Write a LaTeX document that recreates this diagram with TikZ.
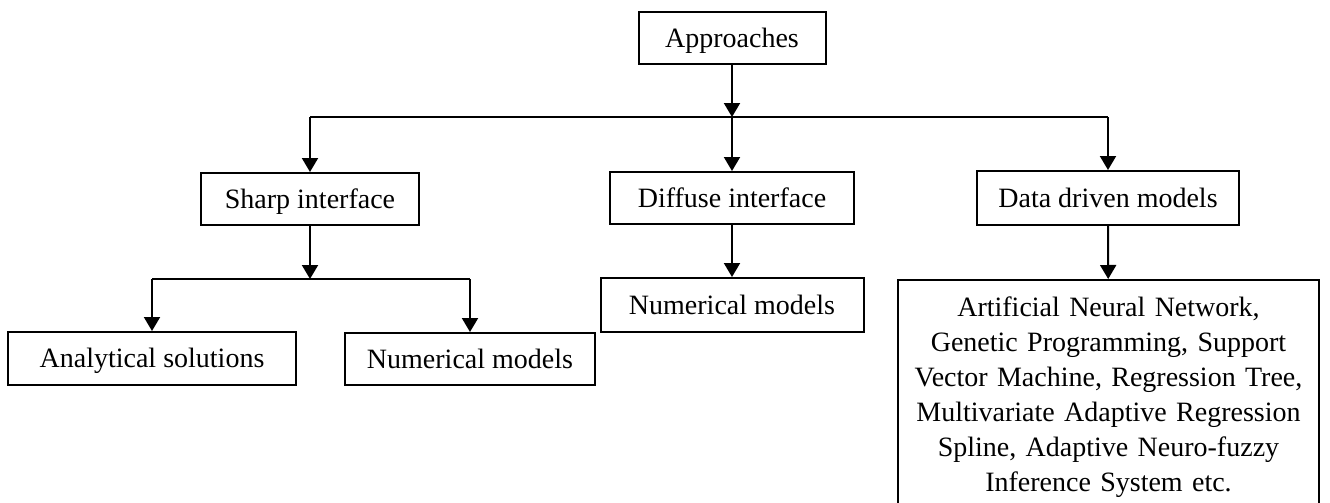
\documentclass[tikz,border=0pt]{standalone}
\usepackage{fontspec}
\setmainfont{Liberation Serif}
\usetikzlibrary{arrows.meta}
\begin{document}
\begin{tikzpicture}[x=0.5pt,y=-0.5pt,
  box/.style={draw,line width=1pt,inner sep=0pt,text height=9.4pt,text depth=0pt,
    font=\fontsize{14}{17.5}\selectfont},
  bigbox/.style={draw,line width=1pt,inner xsep=5.25pt,inner ysep=8.5pt,text width=200pt,
    align=center,font=\fontsize{14}{17.5}\selectfont},
  arr/.style={line width=1pt,-{Triangle[length=7pt,width=8pt]}},
  ln/.style={line width=1pt}]
\useasboundingbox (0,0) rectangle (1330,503);
\node[box,minimum width=93.5pt,minimum height=26pt] (app) at (732,38) {Approaches};
\node[box,minimum width=109pt,minimum height=26pt] (sharp) at (310,199) {Sharp interface};
\node[box,minimum width=122pt,minimum height=26pt] (diff) at (732,198) {Diffuse interface};
\node[box,minimum width=131pt,minimum height=27pt] (data) at (1108,198) {Data driven models};
\node[box,minimum width=144pt,minimum height=26.5pt] (anal) at (152,358.5) {Analytical solutions};
\node[box,minimum width=125pt,minimum height=26pt] (num1) at (470,359) {Numerical models};
\node[box,minimum width=131.5pt,minimum height=27pt] (num2) at (732,305) {Numerical models};
\node[bigbox,anchor=north] (big) at (1108.5,279) {Artificial Neural Network,\\ Genetic Programming, Support\\ Vector Machine, Regression Tree,\\ Multivariate Adaptive Regression\\ Spline, Adaptive Neuro-fuzzy\\ Inference System etc.};
\coordinate (j1) at (732,117);
\coordinate (j1l) at (310,117);
\coordinate (j1r) at (1108,117);
\coordinate (j2) at (310,279);
\coordinate (j2l) at (152,279);
\coordinate (j2r) at (470,279);
\draw[arr] (app) -- (j1);
\draw[ln] (j1l) -- (j1r);
\draw[arr] (j1l) -- (sharp);
\draw[arr] (j1) -- (diff);
\draw[arr] (j1r) -- (data);
\draw[arr] (sharp) -- (j2);
\draw[ln] (j2l) -- (j2r);
\draw[arr] (j2l) -- (anal);
\draw[arr] (j2r) -- (num1);
\draw[arr] (diff) -- (num2);
\draw[arr] (data) -- (big);
\end{tikzpicture}
\end{document}
